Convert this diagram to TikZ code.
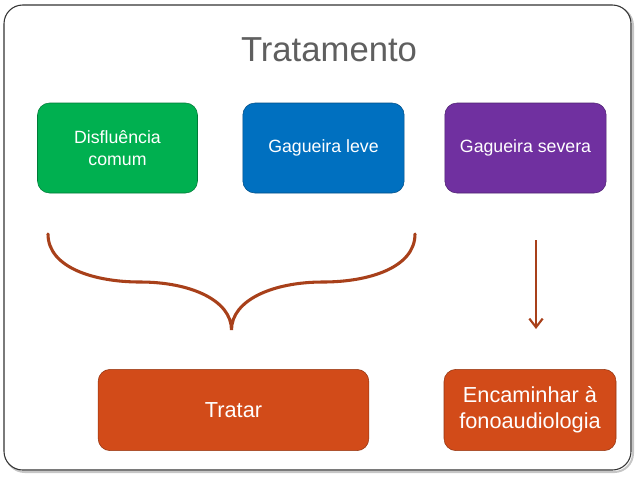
\documentclass[tikz,border=0pt]{standalone}
\usepackage{fontspec}
\setmainfont{Liberation Sans}
\usetikzlibrary{arrows.meta}
\definecolor{verde}{HTML}{00B050}
\definecolor{azul}{HTML}{0070C0}
\definecolor{roxo}{HTML}{7030A0}
\definecolor{laranja}{HTML}{D24B19}
\definecolor{ferrugem}{HTML}{A8401A}
\definecolor{titulo}{HTML}{5F5F5F}
\begin{document}
\begin{tikzpicture}[x=0.75pt,y=-0.75pt,
    caixa/.style={rounded corners=9pt, draw=#1!70!black, fill=#1, text=white, align=center,
      minimum width=120pt, minimum height=67.5pt, font=\fontsize{13.3}{17}\selectfont},
    acao/.style={caixa=laranja, minimum height=61pt, font=\fontsize{16.3}{19.5}\selectfont}]
    \useasboundingbox (0,0) rectangle (638,479);
    \draw[rounded corners=14pt, gray!45, line width=1.5pt] (6,7) rectangle (633,472);
    \draw[rounded corners=14pt, black!80, fill=white, line width=0.8pt] (4,5) rectangle (631,470);
    \node[titulo, font=\fontsize{26}{30}\selectfont] (tit) at (329,50) {Tratamento};
    \node[caixa=verde] (dis) at (117.5,148) {Disfluência\\comum};
    \node[caixa=azul, minimum width=121pt] (gl) at (323.5,148) {Gagueira leve};
    \node[caixa=roxo, minimum width=121pt] (gs) at (525.5,148) {Gagueira severa};
    \node[acao, minimum width=203pt] (tr) at (233.5,410) {Tratar};
    \node[acao, minimum width=129pt] (enc) at (530,410) {Encaminhar à\\fonoaudiologia};
    \coordinate (ch1) at (48,234);
    \coordinate (ch2) at (231.5,330);
    \coordinate (ch3) at (415,234);
    \coordinate (s1) at (536,240);
    \coordinate (s2) at (536,329);
    \draw[ferrugem, line width=2.3pt, line cap=round]
      (ch1) .. controls (48,268) and (95,282) .. (140,282)
      .. controls (190,282) and (231.5,300) .. (ch2)
      .. controls (231.5,300) and (273,282) .. (323,282)
      .. controls (368,282) and (415,268) .. (ch3);
    \draw[ferrugem, line width=1.5pt, -{Straight Barb[length=6.5pt,width=10pt,line width=1.6pt]}] (s1) -- (s2);
\end{tikzpicture}
\end{document}
